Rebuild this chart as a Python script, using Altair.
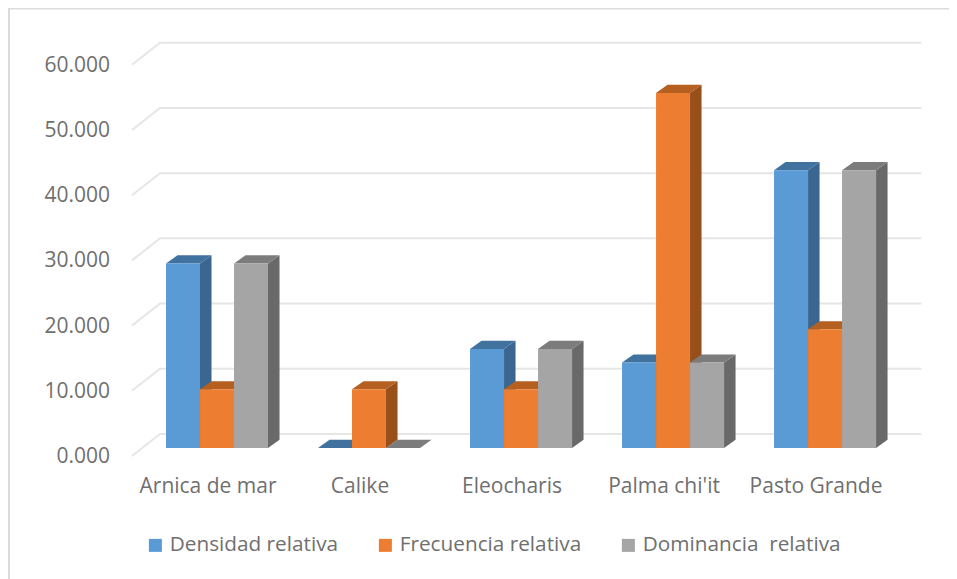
import altair as alt
import pandas as pd

CATEGORIES = ["Arnica de mar", "Calike", "Eleocharis", "Palma chi'it", "Pasto Grande"]
SERIES = ["Densidad relativa", "Frecuencia relativa", "Dominancia \u00a0relativa"]
DENSIDAD = [28.3, 0.0, 15.2, 13.1, 42.6]
FRECUENCIA = [9.0, 9.0, 9.0, 54.45, 18.2]
DOMINANCIA = [28.3, 0.0, 15.2, 13.1, 42.6]
VALUES = [DENSIDAD, FRECUENCIA, DOMINANCIA]
TICKS = [0, 10, 20, 30, 40, 50, 60]
FRONT = ["#5b9bd5", "#ed7d31", "#a5a5a5"]
TOP = ["#41719f", "#b55f20", "#7c7c7c"]
SIDE = ["#3a668f", "#984f19", "#696969"]
FONT = "Open Sans"
TEXT = "#6f6f6f"
GRID = "#e6e6e6"

# scale geometry: x unit = one category pitch, y unit = chart value
BAR_W = 0.2237
DX, DY = 0.0757, 1.25
xscale = alt.Scale(domain=[-1.0395, 5.151], nice=False, zero=False)
yscale = alt.Scale(domain=[-20.09, 67.48], nice=False, zero=False)

grid_rows, front_rows, top_rows, side_rows = [], [], [], []
WALL_X = [-0.2237, -0.0395, 4.97]
WALL_DY = [-1.23, 2.15, 2.15]
for t in TICKS:
    for wx, wy in zip(WALL_X, WALL_DY):
        grid_rows.append({"tick": t, "x": wx, "y": t + wy})

for s, (name, vals) in enumerate(zip(SERIES, VALUES)):
    for g, v in enumerate(vals):
        x0 = g + s * BAR_W
        x1 = x0 + BAR_W
        front_rows.append({"serie": name, "s": s, "x": x0, "x2": x1, "y": v, "y2": 0})
        bar = f"{g}-{s}"
        for px, py, py2 in [(x0, v, v), (x0 + DX, v + DY, v), (x1, v + DY, v), (x1 + DX, v + DY, v + DY)]:
            top_rows.append({"bar": bar, "s": s, "x": px, "y": py, "y2": py2})
        for px, py, py2 in [(x1, v, 0), (x1 + DX, v + DY, DY)]:
            side_rows.append({"bar": bar, "s": s, "x": px, "y": py, "y2": py2})

grid_df, front_df = pd.DataFrame(grid_rows), pd.DataFrame(front_rows)
top_df, side_df = pd.DataFrame(top_rows), pd.DataFrame(side_rows)
ytick_df = pd.DataFrame({"x": [-0.368] * len(TICKS), "y": TICKS, "label": [f"{t:.3f}" for t in TICKS]})
xtick_df = pd.DataFrame({"x": [g + 1.5 * BAR_W for g in range(5)], "y": [-5.98] * 5, "label": CATEGORIES})

noax_x = alt.X("x:Q", scale=xscale, axis=None)
noax_y = alt.Y("y:Q", scale=yscale, axis=None)

grid = alt.Chart(grid_df).mark_line(color=GRID, strokeWidth=2).encode(
    x=noax_x, y=noax_y, detail="tick:N", order="x:Q")

frame_l = alt.Chart(pd.DataFrame({"a": [0]})).mark_rule(color="#dcdcdc", strokeWidth=2).encode(
    x=alt.value(1), y=alt.value(0), y2=alt.value(571))
frame_t = alt.Chart(pd.DataFrame({"a": [0]})).mark_rule(color="#dcdcdc", strokeWidth=2).encode(
    y=alt.value(0.5), x=alt.value(0), x2=alt.value(941))

ylabels = alt.Chart(ytick_df).mark_text(align="right", baseline="middle", dy=9, font=FONT, fontSize=21,
                                        color=TEXT).encode(x=noax_x, y=noax_y, text="label:N")
xlabels = alt.Chart(xtick_df).mark_text(align="center", baseline="middle", dx=-9, font=FONT, fontSize=21,
                                        color=TEXT).encode(x=noax_x, y=noax_y, text="label:N")

layers = [grid, frame_l, frame_t, ylabels, xlabels]
for s in range(3):
    layers.append(alt.Chart(side_df[side_df.s == s]).mark_area(color=SIDE[s]).encode(
        x=noax_x, y=noax_y, y2="y2:Q", detail="bar:N"))
    layers.append(alt.Chart(top_df[top_df.s == s]).mark_area(color=TOP[s]).encode(
        x=noax_x, y=noax_y, y2="y2:Q", detail="bar:N"))
    layers.append(alt.Chart(front_df[front_df.s == s]).mark_rect().encode(
        x=noax_x, x2="x2:Q", y=noax_y, y2="y2:Q",
        color=alt.Color("serie:N", sort=SERIES,
                        scale=alt.Scale(domain=SERIES, range=FRONT),
                        legend=alt.Legend(orient="none", legendX=137, legendY=527, direction="horizontal",
                                          columns=3, title=None, symbolType="square", symbolSize=169,
                                          symbolStrokeWidth=0, symbolOpacity=1, columnPadding=36, gridAlign="none",
                                          labelFont=FONT, labelFontSize=20.75, labelColor=TEXT, labelLimit=0,
                                          labelOffset=4))))

chart = alt.layer(*layers).properties(
    width=941, height=571, padding=0, background="white",
    autosize=alt.AutoSizeParams(type="none"),
).configure_view(stroke=None)

chart.save("out.html", embed_options={"renderer": "svg", "actions": False})
